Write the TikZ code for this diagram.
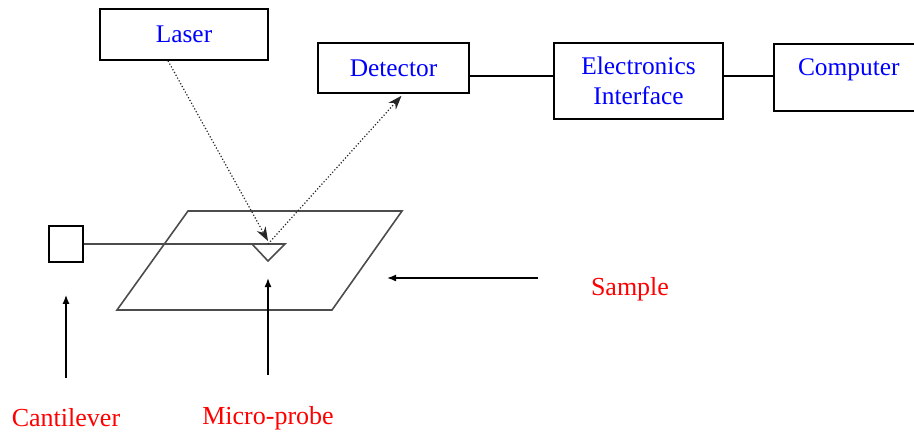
\documentclass[tikz,border=0pt]{standalone}
\usepackage{fontspec}
\setmainfont{Liberation Serif}
\usepackage{tikz}
\usetikzlibrary{arrows.meta}

\begin{document}
\begin{tikzpicture}[x=0.5pt, y=-0.5pt,
    box/.style={draw, line width=0.8pt, inner sep=0pt, align=center,
      font=\fontsize{12.7}{15}\selectfont, text=blue},
    tag/.style={font=\fontsize{13}{15}\selectfont, text=red},
    beam/.style={densely dotted, line width=0.6pt, black!85, -{Stealth[length=7pt,width=5pt]}},
    pointer/.style={line width=0.8pt, -{Latex[length=4.5pt,width=3.5pt]}}]
  \useasboundingbox (0,0) rectangle (914,433);

  % instruments
  \node (laser) [box, minimum width=84pt, minimum height=25.5pt] at (184,34.5) {Laser};
  \node (det) [box, minimum width=75.5pt, minimum height=25pt] at (393.5,68) {Detector};
  \node (elec) [box, minimum width=84.5pt, minimum height=38pt] at (638.5,81) {Electronics\\Interface};
  \node (comp) [box, anchor=north west, minimum width=75pt, text height=16pt,
    text depth=17.5pt] at (773,43) {Computer};
  \coordinate (bus) at (0,76);
  \path[draw, line width=0.8pt]
    (det.east |- bus) -- (elec.west |- bus)
    (elec.east |- bus) -- (comp.west |- bus);

  % sample, cantilever and probe
  \draw[black!70, line width=0.8pt] (188,211) -- (402,211) -- (332,310) -- (117,310) -- cycle;
  \node (cant) [draw, line width=0.8pt, inner sep=0pt, minimum width=17pt, minimum height=18pt] at (66,244) {};
  \coordinate (tip) at (268,244);
  \draw[black!70, line width=0.8pt] (cant.east) -- ([xshift=8.5pt]tip) -- ([yshift=-8.5pt]tip) -- ([xshift=-8pt]tip);

  % laser path
  \draw[beam] ([xshift=-8pt]laser.south) -- ([yshift=1.5pt]tip);
  \draw[beam] (tip) -- ([xshift=4pt,yshift=-1pt]det.south);

  % labels
  \node (smp) [tag] at (630,289) {Sample};
  \node (cnt) [tag] at (66,418) {Cantilever};
  \node (mpb) [tag] at (268,418) {Micro-probe};
  \coordinate (smp-a) at (538,278);
  \coordinate (smp-b) at (387,278);
  \draw[pointer] (smp-a) -- (smp-b);
  \draw[pointer] ([yshift=12pt]cnt.north) -- ([yshift=-16pt]cant.south);
  \draw[pointer] ([yshift=12pt]mpb.north) -- ([yshift=-17pt]tip);
\end{tikzpicture}
\end{document}
